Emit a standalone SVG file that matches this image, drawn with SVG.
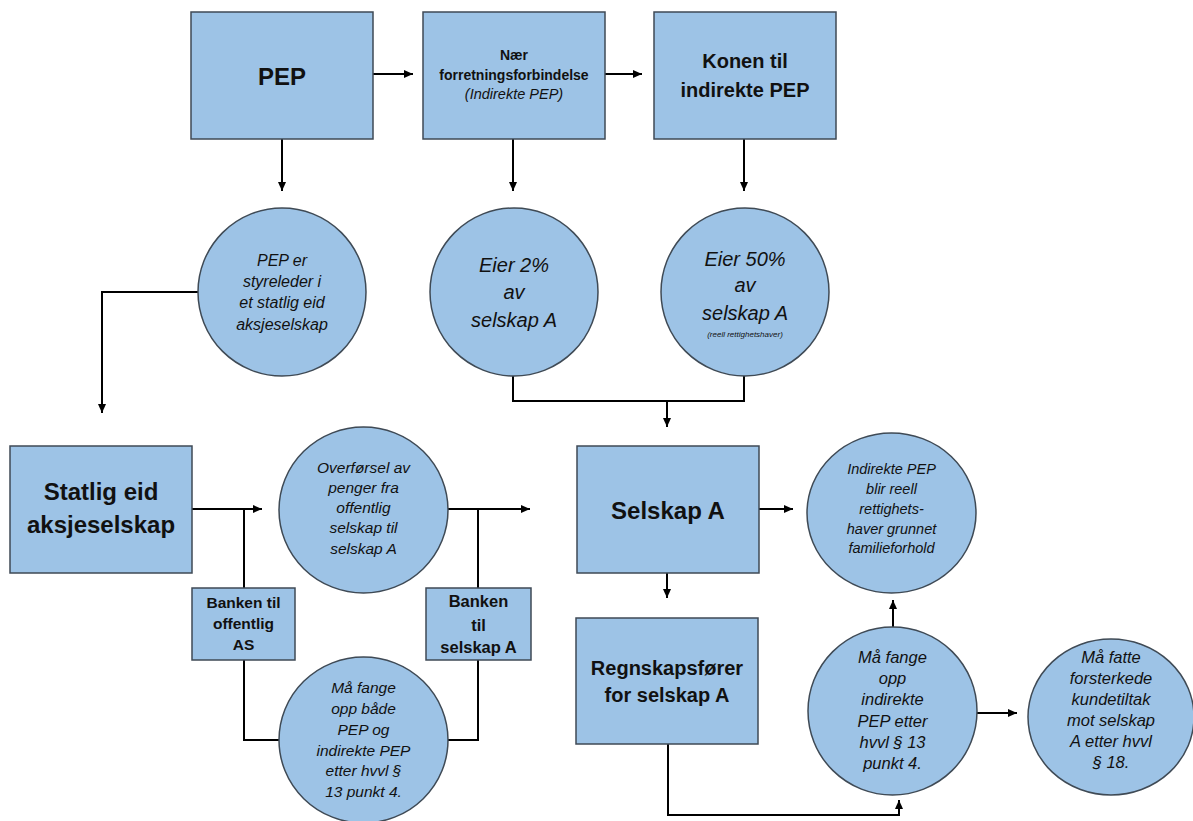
<svg xmlns="http://www.w3.org/2000/svg" width="1193" height="821" viewBox="0 0 1193 821">
<style>
.box{fill:#9dc3e6;stroke:#3f4a55;stroke-width:1.5}
.c{fill:none;stroke:#000;stroke-width:2}
text{font-family:"Liberation Sans",Arial,sans-serif;fill:#111;text-anchor:middle}
.b{font-weight:bold}
.i{font-style:italic}
</style>
<defs>
<marker id="ah" markerUnits="userSpaceOnUse" markerWidth="10" markerHeight="10" refX="9" refY="4" orient="auto">
<path d="M0,0 L9,4 L0,8 z" fill="#000"/>
</marker>
</defs>
<rect width="1193" height="821" fill="#fff"/>
<g id="connectors">
<line class="c" x1="373" y1="74" x2="413" y2="74" marker-end="url(#ah)"/>
<line class="c" x1="605" y1="74" x2="642" y2="74" marker-end="url(#ah)"/>
<line class="c" x1="282" y1="139" x2="282" y2="191" marker-end="url(#ah)"/>
<line class="c" x1="513" y1="139" x2="513" y2="191" marker-end="url(#ah)"/>
<line class="c" x1="744" y1="139" x2="744" y2="191" marker-end="url(#ah)"/>
<polyline class="c" points="198,292 102,292 102,413" marker-end="url(#ah)"/>
<polyline class="c" points="513,376 513,401 744,401 744,376"/>
<line class="c" x1="667" y1="401" x2="667" y2="427" marker-end="url(#ah)"/>
<line class="c" x1="192" y1="509" x2="262" y2="509" marker-end="url(#ah)"/>
<line class="c" x1="244" y1="509" x2="244" y2="588"/>
<polyline class="c" points="244,660 244,740 279,740"/>
<line class="c" x1="448" y1="509" x2="530" y2="509" marker-end="url(#ah)"/>
<line class="c" x1="478" y1="509" x2="478" y2="588"/>
<polyline class="c" points="478,660 478,740 448,740"/>
<line class="c" x1="759" y1="509" x2="793" y2="509" marker-end="url(#ah)"/>
<line class="c" x1="667" y1="573" x2="667" y2="598" marker-end="url(#ah)"/>
<polyline class="c" points="668,744 668,815 899,815 899,800" marker-end="url(#ah)"/>
<line class="c" x1="893" y1="627" x2="893" y2="600" marker-end="url(#ah)"/>
<line class="c" x1="977" y1="713" x2="1017" y2="713" marker-end="url(#ah)"/>
</g>
<g id="pep">
<rect class="box" x="191" y="12" width="182" height="127"/>
<text class="b" x="282" y="85" font-size="24">PEP</text>
</g>
<g id="naer">
<rect class="box" x="423" y="12" width="182" height="127"/>
<text class="b" x="514" y="60" font-size="14">Nær</text>
<text class="b" x="514" y="80" font-size="14">forretningsforbindelse</text>
<text class="i" x="514" y="99" font-size="14.5">(Indirekte PEP)</text>
</g>
<g id="konen">
<rect class="box" x="654" y="12" width="182" height="127"/>
<text class="b" x="745" y="68" font-size="20">Konen til</text>
<text class="b" x="745" y="97" font-size="20">indirekte PEP</text>
</g>
<g id="pep-styreleder">
<ellipse class="box" cx="282" cy="292" rx="84" ry="84"/>
<text class="i" x="282" y="266" font-size="16">PEP er</text>
<text class="i" x="282" y="287" font-size="16">styreleder i</text>
<text class="i" x="282" y="308" font-size="16">et statlig eid</text>
<text class="i" x="282" y="330" font-size="16">aksjeselskap</text>
</g>
<g id="eier2">
<ellipse class="box" cx="514" cy="292" rx="84" ry="84"/>
<text class="i" x="514" y="272" font-size="20">Eier 2%</text>
<text class="i" x="514" y="299" font-size="20">av</text>
<text class="i" x="514" y="327" font-size="20">selskap A</text>
</g>
<g id="eier50">
<ellipse class="box" cx="745" cy="292" rx="84" ry="84"/>
<text class="i" x="745" y="266" font-size="20">Eier 50%</text>
<text class="i" x="745" y="292" font-size="20">av</text>
<text class="i" x="745" y="320" font-size="20">selskap A</text>
<text class="i" x="745" y="337" font-size="8">(reell rettighetshaver)</text>
</g>
<g id="statlig">
<rect class="box" x="10" y="446" width="182" height="127"/>
<text class="b" x="101" y="500" font-size="24">Statlig eid</text>
<text class="b" x="101" y="533" font-size="24">aksjeselskap</text>
</g>
<g id="overforsel">
<ellipse class="box" cx="363.5" cy="510" rx="84.5" ry="83"/>
<text class="i" x="363.5" y="473" font-size="15.5">Overførsel av</text>
<text class="i" x="363.5" y="493" font-size="15.5">penger fra</text>
<text class="i" x="363.5" y="513" font-size="15.5">offentlig</text>
<text class="i" x="363.5" y="533" font-size="15.5">selskap til</text>
<text class="i" x="363.5" y="554" font-size="15.5">selskap A</text>
</g>
<g id="banken-offentlig">
<rect class="box" x="192" y="588" width="103" height="72"/>
<text class="b" x="243.5" y="608" font-size="15.5">Banken til</text>
<text class="b" x="243.5" y="629" font-size="15.5">offentlig</text>
<text class="b" x="243.5" y="650" font-size="15.5">AS</text>
</g>
<g id="banken-selskap">
<rect class="box" x="426" y="588" width="105" height="72"/>
<text class="b" x="478.5" y="607" font-size="16.5">Banken</text>
<text class="b" x="478.5" y="631" font-size="16.5">til</text>
<text class="b" x="478.5" y="653" font-size="16.5">selskap A</text>
</g>
<g id="ma-fange-begge">
<ellipse class="box" cx="363.5" cy="740" rx="84.5" ry="83"/>
<text class="i" x="363.5" y="693" font-size="15.5">Må fange</text>
<text class="i" x="363.5" y="714" font-size="15.5">opp både</text>
<text class="i" x="363.5" y="735" font-size="15.5">PEP og</text>
<text class="i" x="363.5" y="756" font-size="15.5">indirekte PEP</text>
<text class="i" x="363.5" y="776" font-size="15.5">etter hvvl §</text>
<text class="i" x="363.5" y="797" font-size="15.5">13 punkt 4.</text>
</g>
<g id="selskap-a">
<rect class="box" x="577" y="446" width="182" height="127"/>
<text class="b" x="668" y="519" font-size="24">Selskap A</text>
</g>
<g id="regnskapsforer">
<rect class="box" x="576" y="618" width="182" height="126"/>
<text class="b" x="667" y="675" font-size="20">Regnskapsfører</text>
<text class="b" x="667" y="702" font-size="20">for selskap A</text>
</g>
<g id="indirekte-reell">
<ellipse class="box" cx="891.5" cy="513" rx="84.5" ry="80"/>
<text class="i" x="891.5" y="474" font-size="14.5">Indirekte PEP</text>
<text class="i" x="891.5" y="494" font-size="14.5">blir reell</text>
<text class="i" x="891.5" y="514" font-size="14.5">rettighets-</text>
<text class="i" x="891.5" y="534" font-size="14.5">haver grunnet</text>
<text class="i" x="891.5" y="553" font-size="14.5">familieforhold</text>
</g>
<g id="ma-fange-indirekte">
<ellipse class="box" cx="892.5" cy="711" rx="84.5" ry="84"/>
<text class="i" x="892.5" y="663" font-size="16.5">Må fange</text>
<text class="i" x="892.5" y="684" font-size="16.5">opp</text>
<text class="i" x="892.5" y="705" font-size="16.5">indirekte</text>
<text class="i" x="892.5" y="727" font-size="16.5">PEP etter</text>
<text class="i" x="892.5" y="748" font-size="16.5">hvvl § 13</text>
<text class="i" x="892.5" y="769" font-size="16.5">punkt 4.</text>
</g>
<g id="ma-fatte">
<ellipse class="box" cx="1111" cy="717" rx="83" ry="78"/>
<text class="i" x="1111" y="663" font-size="16.5">Må fatte</text>
<text class="i" x="1111" y="684" font-size="16.5">forsterkede</text>
<text class="i" x="1111" y="705" font-size="16.5">kundetiltak</text>
<text class="i" x="1111" y="726" font-size="16.5">mot selskap</text>
<text class="i" x="1111" y="747" font-size="16.5">A etter hvvl</text>
<text class="i" x="1111" y="768" font-size="16.5">§ 18.</text>
</g>
</svg>
